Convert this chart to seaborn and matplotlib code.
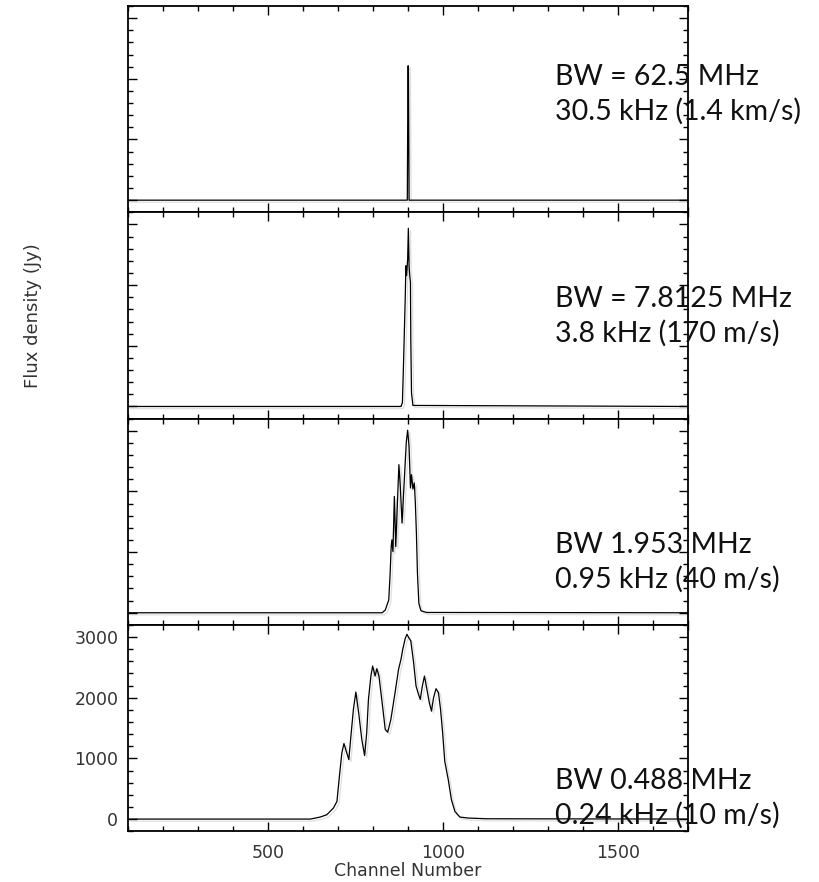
import numpy as np
import pandas as pd
import matplotlib
matplotlib.use("Agg")
import matplotlib.pyplot as plt
import matplotlib.patheffects as pe
from matplotlib.ticker import MultipleLocator, NullFormatter
import seaborn as sns

# ---- spectra: (channel, flux density in Jy) for each bandwidth setting ----
ch_bw62 = [100, 898, 900, 901, 903, 1700]
fx_bw62 = [0, 0, 2215, 2215, 0, 0]

ch_bw7 = [100, 880, 884, 887, 890, 892, 894, 896, 899, 901, 903, 905, 907, 908, 910, 914, 1700]
fx_bw7 = [0, 0, 61, 666, 1327, 1769, 2319, 2157, 2430, 2937, 2319, 2157, 2044, 1107, 226, 17, 0]

ch_bw1 = [100, 826, 835, 845, 849, 852, 854, 857, 861, 865, 869, 874, 878, 883, 889, 895,
          899, 903, 907, 910, 914, 918, 921, 924, 927, 931, 937, 953, 1700]
fx_bw1 = [0, 0, 45, 210, 651, 1091, 1202, 1008, 1917, 1091, 1697, 2441, 2083, 1478, 2139, 2800,
          3008, 2744, 2056, 2276, 2040, 2139, 1808, 1312, 651, 155, 33, 5, 0]

ch_bw05 = [100, 621, 649, 668, 687, 697, 704, 711, 717, 725, 731, 736, 744, 751, 759, 768, 776,
           782, 787, 794, 799, 806, 811, 817, 825, 835, 842, 851, 863, 873, 880, 885, 892,
           897, 902, 908, 916, 923, 930, 935, 941, 947, 954, 961, 967, 973, 980, 987, 993,
           999, 1005, 1015, 1024, 1034, 1048, 1072, 1124, 1700]
fx_bw05 = [0, 0, 33, 71, 182, 291, 704, 1091, 1245, 1091, 980, 1311, 1807, 2093, 1752, 1311, 1046,
           1421, 1972, 2357, 2522, 2357, 2479, 2357, 1972, 1476, 1431, 1641, 2083, 2468, 2633, 2798, 2975,
           3046, 2990, 2936, 2578, 2192, 2055, 1972, 2192, 2357, 2137, 1917, 1779, 2000, 2149, 2083, 1807,
           1421, 952, 650, 319, 126, 33, 17, 5, 0]

labels_line1 = ["BW = 62.5 MHz", "BW = 7.8125 MHz", "BW 1.953 MHz", "BW 0.488 MHz"]
labels_line2 = ["30.5 kHz (1.4 km/s)", "3.8 kHz (170 m/s)", "0.95 kHz (40 m/s)", "0.24 kHz (10 m/s)"]

x_ticks_major = [500, 1000, 1500]
y_ticks_major = [0, 1000, 2000, 3000]

spectra = [(ch_bw62, fx_bw62), (ch_bw7, fx_bw7), (ch_bw1, fx_bw1), (ch_bw05, fx_bw05)]

sns.set_style("ticks")
plt.rcParams["font.family"] = ["DejaVu Sans"]

W, H = 819, 882
fig = plt.figure(figsize=(W / 100, H / 100), dpi=100)

left_px, right_px = 128, 688
top_px, panel_px = 6, 206.3

shadow = [pe.SimpleLineShadow(offset=(1.5, -1.5), shadow_color="0.6", alpha=0.3), pe.Normal()]
axis_grey = "#333333"

axes = []
for i, (ch, fx) in enumerate(spectra):
    top = top_px + i * panel_px
    ax = fig.add_axes([left_px / W, 1 - (top + panel_px) / H,
                       (right_px - left_px) / W, panel_px / H])
    df = pd.DataFrame({"channel": ch, "flux": fx})
    sns.lineplot(data=df, x="channel", y="flux", ax=ax, color="black",
                 linewidth=0.9, estimator=None, sort=False)
    for ln in ax.get_lines():
        ln.set_path_effects(shadow)
    ax.set_xlim(100, 1700)
    ax.set_ylim(-200, 3200)
    ax.xaxis.set_major_locator(MultipleLocator(500))
    ax.xaxis.set_minor_locator(MultipleLocator(100))
    ax.yaxis.set_major_locator(MultipleLocator(1000))
    ax.yaxis.set_minor_locator(MultipleLocator(200))
    ax.tick_params(which="both", direction="in", top=True, right=True,
                   bottom=True, left=True, color="black", width=1.0)
    ax.tick_params(which="major", length=6.5)
    ax.tick_params(which="minor", length=3.8)
    for s in ax.spines.values():
        s.set_linewidth(1.3)
        s.set_color("black")
    ax.set_xlabel("")
    ax.set_ylabel("")
    if i < 3:
        ax.xaxis.set_major_formatter(NullFormatter())
        ax.yaxis.set_major_formatter(NullFormatter())
    else:
        ax.set_xticks(x_ticks_major)
        ax.set_yticks(y_ticks_major)
        ax.tick_params(axis="both", which="major", labelsize=12.5, labelcolor=axis_grey)
        ax.tick_params(axis="x", which="major", pad=9)
        ax.tick_params(axis="y", which="major", pad=7)
        ax.set_xlabel("Channel Number", fontsize=12.5, color=axis_grey, labelpad=0)
    axes.append(ax)

fig.text(33 / W, 1 - 316 / H, "Flux density (Jy)", rotation=90, fontsize=13,
         color=axis_grey, ha="center", va="center")

# Bandwidth / channel-width annotations at the right of each panel
line1_y = [77, 299, 545, 781]
gap = 34
for i in range(4):
    for txt, y in ((labels_line1[i], line1_y[i]), (labels_line2[i], line1_y[i] + gap)):
        fig.text(555 / W, 1 - y / H, txt, fontsize=20.5, family=["Lato", "DejaVu Sans"],
                 color="#111111", ha="left", va="center", zorder=10)

fig.savefig("out.png", dpi=100)
